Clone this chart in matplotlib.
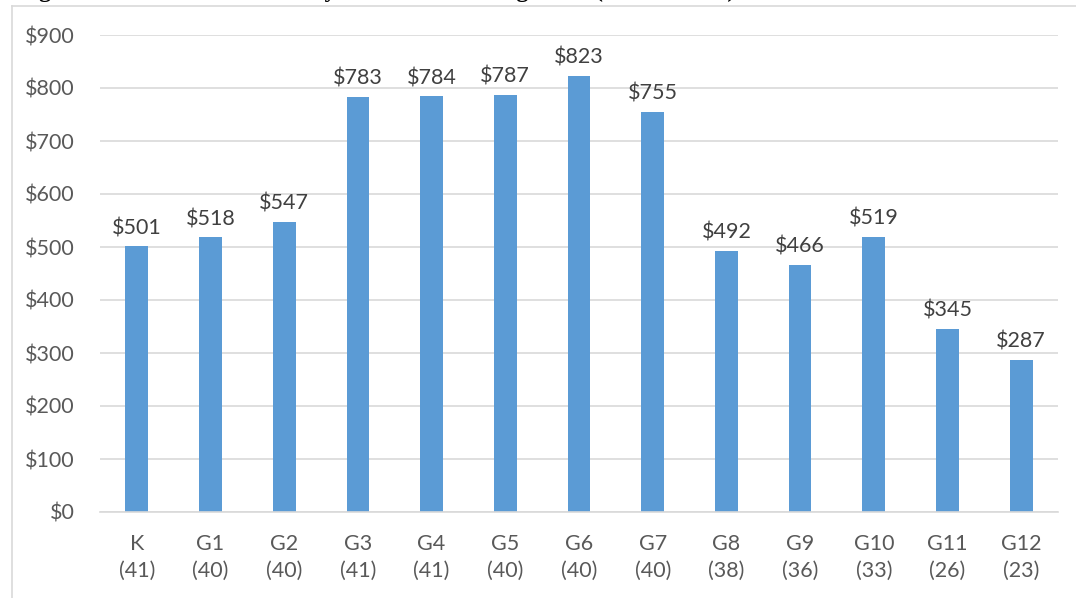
import matplotlib
import matplotlib.pyplot as plt
from matplotlib.lines import Line2D
from matplotlib.ticker import FuncFormatter, MultipleLocator

matplotlib.use("Agg")

# Chart data
grades = ["K", "G1", "G2", "G3", "G4", "G5", "G6", "G7", "G8", "G9", "G10", "G11", "G12"]
counts = [41, 40, 40, 41, 41, 40, 40, 40, 38, 36, 33, 26, 23]
amounts = [501, 518, 547, 783, 784, 787, 823, 755, 492, 466, 519, 345, 287]

BAR_COLOR = "#5B9BD5"
GRID_COLOR = "#D9D9D9"
TEXT_COLOR = "#595959"
LABEL_COLOR = "#404040"

plt.rcParams.update({"font.family": ["Lato", "DejaVu Sans"]})

fig = plt.figure(figsize=(10.76, 5.98), dpi=100)
ax = fig.add_axes([100 / 1076, 1 - 512 / 598, 958 / 1076, 477 / 598])

x = range(len(grades))
bars = ax.bar(x, amounts, width=0.31, color=BAR_COLOR, zorder=2)

for rect, val in zip(bars, amounts):
    ax.annotate(
        f"${val}",
        (rect.get_x() + rect.get_width() / 2, val),
        xytext=(0, 6),
        textcoords="offset points",
        ha="center",
        va="bottom",
        fontsize=15.5,
        color=LABEL_COLOR,
    )

ax.set_xlim(-0.5, len(grades) - 0.5)
ax.set_ylim(0, 900)
ax.yaxis.set_major_locator(MultipleLocator(100))
ax.yaxis.set_major_formatter(FuncFormatter(lambda v, _: f"${v:.0f}"))
ax.set_xticks(list(x))
ax.set_xticklabels([f"{g}\n({n})" for g, n in zip(grades, counts)], linespacing=1.4)

ax.grid(axis="y", color=GRID_COLOR, linewidth=1.2, zorder=0)
for side in ["top", "right", "left"]:
    ax.spines[side].set_visible(False)
ax.spines["bottom"].set_color(GRID_COLOR)
ax.spines["bottom"].set_linewidth(1.2)
ax.tick_params(axis="both", length=0, labelsize=15.5, colors=TEXT_COLOR)
ax.tick_params(axis="y", pad=18)
ax.tick_params(axis="x", pad=16)

# chart-area frame (cropped on right and bottom)
fig.add_artist(Line2D([11.5 / 1076, 11.5 / 1076], [1 - 5.5 / 598, 0], color=GRID_COLOR, linewidth=1.2))
fig.add_artist(Line2D([11.5 / 1076, 1], [1 - 5.5 / 598, 1 - 5.5 / 598], color=GRID_COLOR, linewidth=1.2))

# caption above, mostly cut off by the crop
fig.text(
    18 / 1076,
    1 + 2.5 / 598,
    "Figure 3. Mean Annual Activity Cost Per Learning Level (All Students)",
    family="Liberation Serif",
    fontweight="bold",
    fontsize=17,
    va="baseline",
    ha="left",
)

fig.savefig("out.png", dpi=100)
